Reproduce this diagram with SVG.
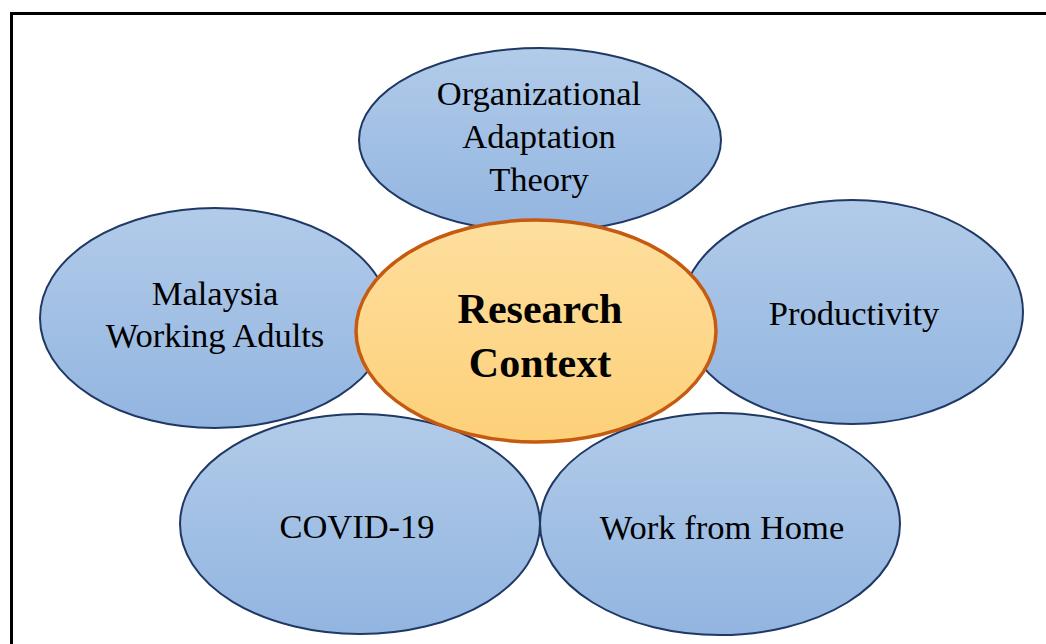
<svg xmlns="http://www.w3.org/2000/svg" width="1046" height="644" viewBox="0 0 1046 644">
  <defs>
    <linearGradient id="blueFill" x1="0" y1="0" x2="0" y2="1">
      <stop offset="0" stop-color="#b2cbe9"/>
      <stop offset="1" stop-color="#92b5e0"/>
    </linearGradient>
    <linearGradient id="goldFill" x1="0" y1="0" x2="0" y2="1">
      <stop offset="0" stop-color="#fedf9e"/>
      <stop offset="1" stop-color="#fdd079"/>
    </linearGradient>
  </defs>
  <style>
    .petal { fill: url(#blueFill); stroke: #1f3864; stroke-width: 2; }
    .core { fill: url(#goldFill); stroke: #c55a11; stroke-width: 3.5; }
    .label { font-family: "Liberation Serif", "Times New Roman", serif; font-size: 34.5px; fill: #000; text-anchor: middle; }
    .title { font-family: "Liberation Serif", "Times New Roman", serif; font-size: 42px; font-weight: bold; fill: #000; text-anchor: middle; }
    .frame { fill: none; stroke: #000; stroke-width: 3; }
  </style>
  <rect width="1046" height="644" fill="#ffffff"/>
  <!-- outer frame: top and left edges -->
  <path class="frame" d="M11.5 650 V13.5 H1050"/>

  <g id="organizational-adaptation-theory">
    <ellipse class="petal" cx="540" cy="140" rx="181" ry="92"/>
    <text class="label" x="539" y="105">Organizational</text>
    <text class="label" x="539" y="148">Adaptation</text>
    <text class="label" x="539" y="191">Theory</text>
  </g>
  <g id="malaysia-working-adults">
    <ellipse class="petal" cx="215" cy="318" rx="175" ry="110"/>
    <text class="label" x="215" y="305">Malaysia</text>
    <text class="label" x="215" y="347">Working Adults</text>
  </g>
  <g id="productivity">
    <ellipse class="petal" cx="852" cy="312" rx="171" ry="112"/>
    <text class="label" x="854" y="325">Productivity</text>
  </g>
  <g id="covid-19">
    <ellipse class="petal" cx="360" cy="524" rx="180" ry="110"/>
    <text class="label" x="357" y="538">COVID-19</text>
  </g>
  <g id="work-from-home">
    <ellipse class="petal" cx="720" cy="524" rx="180" ry="111"/>
    <text class="label" x="722" y="539">Work from Home</text>
  </g>
  <g id="research-context">
    <ellipse class="core" cx="536" cy="331" rx="180" ry="111"/>
    <text class="title" x="540" y="323">Research</text>
    <text class="title" x="540" y="377">Context</text>
  </g>
  <g id="connectors"/>
</svg>
